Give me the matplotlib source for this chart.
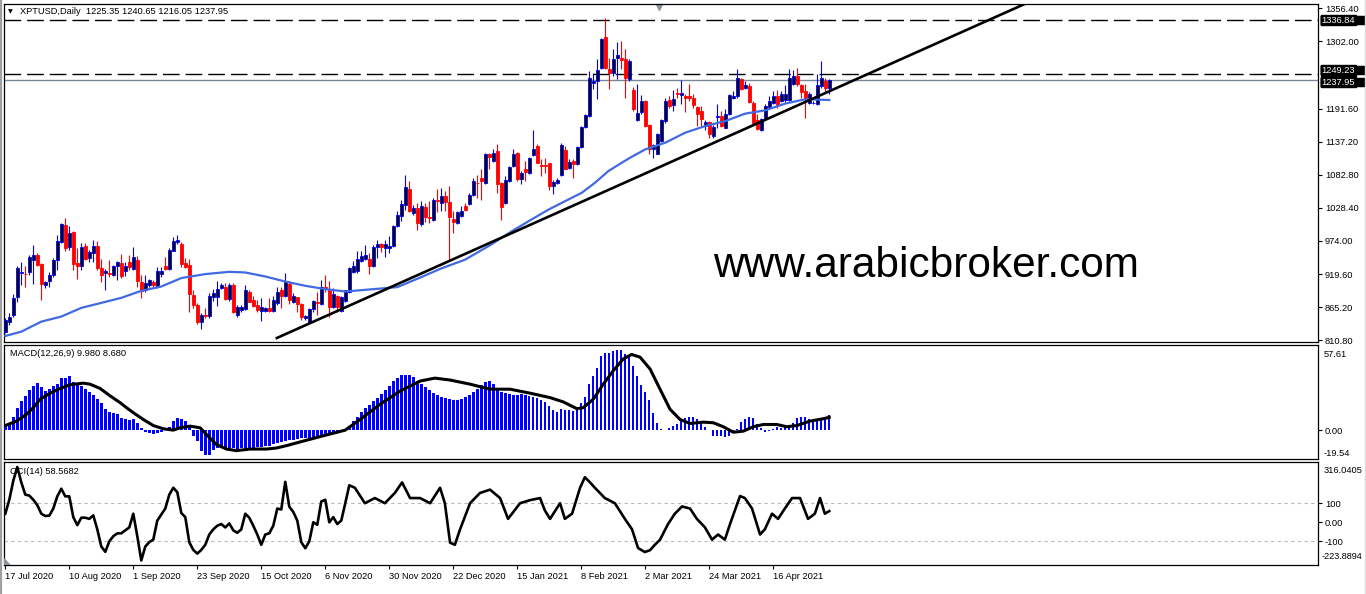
import numpy as np
import matplotlib
matplotlib.use("Agg")
import matplotlib.pyplot as plt
from matplotlib.transforms import blended_transform_factory, offset_copy
from matplotlib.lines import Line2D
from matplotlib.patches import Rectangle

plt.rcParams['font.family'] = ['Liberation Sans', 'DejaVu Sans']

# ---------------- data ----------------
opens = [824.0, 840.4, 852.5, 882.6, 921.7, 920.1, 922.2, 942.0, 951.4, 936.0,
         901.9, 907.4, 918.4, 943.1, 971.7, 999.7, 963.4, 988.2, 937.7, 932.1,
         965.1, 945.9, 954.2, 965.1, 929.5, 920.6, 921.7, 918.4, 933.2, 937.7,
         923.9, 938.7, 928.3, 942.0, 906.4, 893.7, 901.9, 906.4, 899.1, 919.5,
         932.1, 927.7, 956.8, 971.7, 969.0, 937.7, 934.9, 885.4, 869.0, 840.4,
         852.0, 850.7, 882.6, 882.6, 896.5, 898.6, 878.8, 901.9, 852.5, 860.7,
         862.4, 889.3, 877.2, 869.0, 859.6, 859.6, 864.5, 859.6, 871.8, 893.2,
         884.3, 903.1, 873.4, 881.7, 870.1, 847.0, 841.4, 862.4, 873.4, 870.1,
         897.5, 895.3, 866.2, 883.8, 859.6, 875.6, 890.9, 922.9, 923.9, 940.4,
         944.8, 944.3, 932.1, 963.4, 969.0, 962.4, 962.4, 965.1, 998.0, 1014.5,
         1033.8, 1060.2, 1020.1, 1028.3, 1002.5, 1030.0, 1012.8, 1007.9, 1040.9, 1036.6,
         1047.5, 1037.6, 1010.7, 1003.6, 1015.6, 1032.1, 1034.9, 1049.1, 1070.0, 1077.8,
         1069.5, 1116.2, 1105.2, 1121.7, 1069.5, 1036.6, 1072.2, 1096.9, 1119.0, 1076.6,
         1091.5, 1086.0, 1114.6, 1129.9, 1098.1, 1098.6, 1101.4, 1064.0, 1069.5, 1082.1,
         1122.8, 1094.3, 1105.2, 1099.7, 1128.2, 1161.2, 1179.4, 1233.3, 1237.0, 1258.0,
         1308.6, 1256.3, 1250.9, 1274.0, 1274.5, 1272.8, 1239.8, 1221.7, 1172.8, 1186.6,
         1204.1, 1164.5, 1124.5, 1117.4, 1138.1, 1171.1, 1205.2, 1197.0, 1216.8, 1214.0,
         1212.3, 1212.3, 1209.7, 1194.2, 1187.6, 1162.9, 1169.5, 1146.4, 1178.4, 1179.4,
         1160.2, 1182.2, 1208.5, 1212.3, 1241.0, 1226.2, 1228.8, 1201.4, 1172.3, 1155.8,
         1176.7, 1194.2, 1200.8, 1212.3, 1204.1, 1205.2, 1205.7, 1232.8, 1245.3, 1230.4,
         1220.5, 1200.3, 1200.3, 1199.8, 1228.8, 1237.0, 1225.35]
highs = [847.0, 855.3, 886.6, 932.1, 939.4, 933.2, 951.4, 967.9, 954.2, 937.7,
         908.5, 922.2, 945.9, 984.4, 1003.6, 1011.9, 998.0, 989.8, 962.4, 970.7,
         970.7, 959.6, 975.0, 973.3, 944.8, 928.3, 943.1, 934.9, 941.4, 952.6,
         939.3, 951.4, 963.4, 948.6, 918.4, 917.3, 911.8, 910.2, 930.5, 931.1,
         946.9, 962.4, 979.9, 984.4, 971.7, 945.9, 944.2, 893.7, 871.8, 856.3,
         863.5, 888.2, 895.3, 908.5, 904.8, 904.8, 904.8, 904.8, 869.0, 869.0,
         900.8, 893.7, 883.8, 877.2, 881.0, 866.2, 881.0, 883.8, 897.5, 899.1,
         921.2, 907.4, 888.2, 882.6, 871.8, 852.5, 863.5, 877.2, 890.0, 910.2,
         917.3, 908.5, 896.5, 885.4, 884.3, 893.7, 930.5, 940.4, 957.9, 956.8,
         966.7, 954.2, 966.7, 976.1, 970.6, 976.1, 981.5, 1000.8, 1022.7, 1042.0,
         1083.2, 1072.2, 1033.8, 1036.6, 1039.2, 1036.6, 1039.2, 1044.8, 1059.7, 1061.3,
         1055.7, 1064.0, 1022.7, 1022.7, 1031.0, 1036.6, 1053.1, 1077.8, 1083.2, 1091.5,
         1119.0, 1119.0, 1124.5, 1132.7, 1070.5, 1080.4, 1096.9, 1125.6, 1120.0, 1088.7,
         1105.2, 1111.7, 1156.3, 1132.7, 1109.1, 1110.8, 1102.5, 1075.0, 1077.8, 1135.5,
         1129.9, 1108.0, 1108.0, 1129.9, 1162.9, 1182.2, 1253.5, 1250.9, 1272.8, 1306.9,
         1340.4, 1274.0, 1289.3, 1300.3, 1303.0, 1289.3, 1272.8, 1226.7, 1231.6, 1214.0,
         1205.2, 1165.7, 1133.8, 1152.0, 1173.9, 1209.7, 1212.3, 1221.7, 1226.2, 1238.2,
         1215.1, 1232.8, 1215.1, 1195.8, 1195.8, 1172.3, 1171.1, 1164.5, 1199.8, 1187.6,
         1190.4, 1216.3, 1220.5, 1256.3, 1242.6, 1237.0, 1234.4, 1204.1, 1182.2, 1176.7,
         1198.6, 1212.3, 1220.5, 1221.7, 1220.5, 1230.4, 1256.3, 1254.7, 1259.1, 1232.8,
         1231.6, 1219.6, 1204.1, 1248.1, 1270.0, 1242.6, 1240.65]
lows = [822.3, 836.0, 849.7, 874.4, 901.9, 897.5, 917.3, 903.6, 932.1, 877.2,
        896.5, 897.5, 914.0, 926.7, 970.7, 956.8, 959.6, 925.5, 911.8, 925.5,
        943.1, 939.3, 939.3, 926.7, 906.4, 893.7, 914.0, 915.6, 909.0, 913.0,
        916.7, 926.7, 926.7, 899.1, 880.0, 889.9, 899.1, 897.5, 896.5, 914.0,
        925.5, 926.7, 956.8, 969.0, 931.6, 929.5, 856.9, 863.5, 837.1, 828.9,
        847.2, 847.2, 875.6, 867.8, 895.3, 877.2, 875.6, 855.3, 849.7, 857.9,
        860.7, 873.4, 866.2, 857.9, 842.4, 857.9, 857.9, 857.9, 869.0, 863.5,
        882.6, 870.1, 871.8, 857.9, 844.2, 844.2, 840.4, 857.9, 852.5, 869.0,
        890.9, 849.7, 863.5, 857.9, 857.9, 873.4, 888.2, 921.2, 921.2, 939.3,
        943.1, 919.5, 930.5, 945.9, 955.8, 946.9, 954.2, 963.4, 996.4, 1006.3,
        1025.5, 1021.7, 1017.3, 992.6, 998.0, 1004.6, 1003.6, 1006.3, 1021.1, 1022.7,
        1022.7, 943.1, 987.1, 1002.5, 1013.5, 1022.7, 1033.8, 1047.5, 1044.8, 1042.0,
        1068.4, 1091.5, 1104.2, 1053.1, 1009.1, 1035.4, 1071.2, 1095.9, 1072.2, 1066.8,
        1072.2, 1084.4, 1113.4, 1101.4, 1080.4, 1086.0, 1058.5, 1051.9, 1066.8, 1080.4,
        1091.5, 1092.6, 1077.8, 1098.1, 1127.3, 1159.6, 1178.4, 1223.4, 1206.9, 1256.3,
        1256.3, 1223.4, 1245.3, 1239.8, 1256.3, 1209.7, 1236.5, 1187.1, 1171.1, 1182.2,
        1161.2, 1117.4, 1109.6, 1116.2, 1137.2, 1168.5, 1193.2, 1187.6, 1209.7, 1198.6,
        1186.6, 1204.1, 1193.2, 1162.9, 1162.9, 1155.8, 1143.7, 1143.7, 1160.2, 1161.2,
        1159.1, 1181.0, 1206.9, 1209.7, 1221.7, 1223.4, 1201.4, 1166.8, 1155.8, 1154.6,
        1173.9, 1192.0, 1199.8, 1192.0, 1203.1, 1203.1, 1204.1, 1230.4, 1228.8, 1209.7,
        1176.7, 1198.6, 1198.6, 1197.5, 1226.2, 1216.8, 1216.05]
closes = [844.2, 849.7, 881.0, 929.5, 922.9, 918.9, 946.9, 951.4, 934.9, 903.1,
          906.4, 917.3, 943.1, 974.5, 1002.5, 962.4, 987.2, 936.5, 932.1, 963.4,
          944.8, 955.8, 965.1, 929.5, 918.4, 925.0, 920.1, 933.2, 939.3, 916.7,
          932.1, 930.4, 947.6, 908.5, 892.0, 905.7, 909.7, 900.8, 925.0, 925.0,
          928.3, 959.6, 973.3, 975.0, 936.0, 930.4, 886.6, 869.0, 840.4, 852.5,
          850.7, 883.8, 888.2, 894.8, 900.8, 878.8, 900.8, 856.9, 865.2, 866.2,
          893.2, 874.4, 867.8, 860.7, 865.2, 864.5, 859.6, 877.2, 890.4, 884.3,
          907.4, 877.2, 883.8, 870.1, 849.7, 850.8, 862.4, 875.6, 872.3, 897.5,
          895.3, 866.2, 887.1, 866.2, 881.7, 892.6, 929.5, 932.1, 944.8, 949.8,
          951.4, 932.1, 964.0, 969.0, 963.4, 969.0, 965.1, 999.2, 1017.3, 1034.9,
          1063.0, 1022.7, 1028.3, 1003.6, 1032.1, 1013.5, 1011.2, 1042.0, 1039.2, 1048.6,
          1037.6, 1013.5, 1005.3, 1021.1, 1023.9, 1025.5, 1050.3, 1073.3, 1068.9, 1072.2,
          1116.2, 1112.4, 1117.9, 1067.9, 1029.3, 1073.8, 1095.3, 1116.2, 1076.6, 1086.0,
          1087.0, 1109.6, 1124.5, 1102.5, 1096.4, 1096.9, 1064.0, 1070.6, 1075.0, 1131.0,
          1092.6, 1103.5, 1099.7, 1128.2, 1161.2, 1180.5, 1242.6, 1237.0, 1254.7, 1305.8,
          1258.0, 1250.9, 1272.8, 1279.4, 1271.7, 1242.6, 1269.0, 1190.4, 1184.9, 1204.1,
          1162.9, 1124.5, 1131.5, 1150.3, 1172.3, 1204.1, 1195.8, 1208.0, 1215.6, 1217.9,
          1209.7, 1209.7, 1197.5, 1182.2, 1173.9, 1170.1, 1149.2, 1161.2, 1179.4, 1162.9,
          1182.2, 1214.0, 1212.3, 1241.5, 1223.4, 1230.5, 1202.4, 1168.5, 1157.4, 1173.9,
          1195.8, 1204.1, 1212.3, 1197.5, 1215.1, 1216.3, 1241.5, 1245.3, 1231.6, 1219.6,
          1209.7, 1216.3, 1201.4, 1230.5, 1241.5, 1226.2, 1237.95]

# moving average (blue line), read at sampled bars
ma_idx = [0, 4, 9, 14, 19, 24, 29, 34, 39, 44, 50, 56, 60, 65, 70, 75, 80, 85, 93, 98,
          103, 109.1, 114.9, 121.2, 126.6, 130.8, 135.8, 139.9, 144.1, 147.4, 150.75,
          154.1, 156.2, 160, 165, 170, 175, 180, 185, 190, 195, 200, 206]
ma_val = [817.8, 824.9, 841.4, 849.7, 864.0, 872.2, 880.5, 892.0, 899.1, 913.0, 919.5,
          923.3, 922.2, 915.6, 907.3, 900.3, 894.8, 890.9, 895.3, 898.1, 911.8, 929.1,
          943.1, 967.0, 989.8, 1006.3, 1025.5, 1039.2, 1053.1, 1069.5, 1088.7, 1102.5,
          1110.8, 1124.5, 1135.5, 1152.0, 1162.9, 1171.1, 1183.3, 1188.7, 1199.8, 1206.9,
          1205.7]

# trend line (two anchor points, bar index / price)
trend_idx = [67.9, 255.4]
trend_price = [814.5, 1365.1]

level_lines = [1336.84, 1249.23]
bid_price = 1237.95

price_ticks = [810.80, 865.20, 919.60, 974.00, 1028.40, 1082.80, 1137.20, 1191.60, 1302.00, 1356.40]

macd_hist = [3.1, 5.0, 9.1, 15.2, 19.8, 23.2, 27.3, 30.0, 31.8, 29.5,
             26.6, 27.7, 30.0, 31.1, 35.0, 35.0, 36.8, 32.7, 30.5, 30.0,
             27.7, 25.9, 23.6, 21.4, 18.2, 14.5, 12.2, 11.8, 10.7, 7.9,
             7.2, 6.8, 7.2, 4.5, 1.3, -1.0, -1.9, -2.6, -1.9, -1.0,
             0.5, 2.2, 6.1, 8.4, 7.7, 6.1, 2.7, -4.2, -7.6, -14.4,
             -16.7, -16.7, -13.3, -12.1, -12.1, -12.0, -12.0, -12.3, -12.5, -12.3,
             -12.0, -11.8, -11.8, -11.5, -11.3, -11.0, -10.5, -9.5, -8.7, -8.0,
             -7.5, -7.0, -6.5, -6.0, -5.5, -5.0, -5.0, -4.5, -4.0, -3.5,
             -3.0, -2.5, -2.0, -1.5, -0.5, 0.8, 3.0, 6.0, 9.0, 12.0,
             15.0, 17.0, 19.5, 22.0, 24.5, 27.0, 30.0, 33.0, 35.5, 37.0,
             37.3, 37.3, 36.0, 33.0, 31.0, 29.0, 27.0, 25.0, 23.5, 22.5,
             21.5, 21.0, 20.5, 20.5, 21.0, 22.5, 24.0, 26.0, 28.0, 30.5,
             32.5, 33.0, 31.0, 28.0, 26.0, 25.0, 24.5, 24.0, 24.0, 24.5,
             24.0, 23.0, 22.5, 21.5, 20.5, 19.0, 16.0, 13.4, 12.2, 14.5,
             13.4, 13.4, 12.7, 14.1, 18.6, 22.7, 31.1, 36.8, 41.9, 50.0,
             52.3, 52.3, 53.7, 54.4, 54.4, 51.6, 50.5, 43.2, 36.8, 30.5,
             26.1, 20.2, 11.3, 5.0, 1.1, 0.4, 1.6, 3.1, 4.3, 6.1,
             7.9, 8.6, 8.6, 7.7, 5.4, 2.2, 0.4, -3.7, -3.7, -3.7,
             -4.6, -4.1, -1.4, 0.9, 5.2, 7.2, 9.1, 7.9, 4.3, 1.3,
             -1.0, -0.3, 0.9, 1.8, 1.6, 2.5, 2.5, 5.0, 8.4, 9.1,
             9.1, 7.2, 6.1, 6.1, 6.6, 8.3, 9.98]

signal_idx = [0, 2.8, 5.3, 7, 8.7, 11.2, 13.7, 16.2, 19.5, 21.2, 23.7, 26.2, 28.7, 30.3, 32,
              34.5, 37, 39.5, 42, 43.7, 46.2, 48.7, 50.3, 52.8, 55.3, 57.8, 61.2, 65.3, 67.8,
              70.3, 73.7, 78.7, 85, 88.7, 93.7, 98.7, 103.7, 107.4, 111.2, 116.2, 121.2, 126.2,
              131.2, 136.2, 139.5, 142.9, 144.5, 147, 149.5, 152, 154.5, 156.6, 158.7, 161.2,
              163.7, 166.2, 168.7, 171.2, 174.5, 177, 179.5, 182, 184.5, 187, 189.5, 192.9,
              195.4, 197.9, 201.2, 204.5, 206]
signal_val = [3.1, 6.1, 10.7, 15.2, 20.9, 25.0, 28.2, 30.7, 31.8, 31.1, 28.2, 23.2, 18.6, 15.2,
              11.8, 7.2, 3.1, 0.9, 0.0, 1.6, 2.7, 1.6, -3.0, -9.8, -12.8, -13.9, -12.8, -12.8,
              -12.1, -10.5, -8.0, -4.4, 0.0, 7.2, 17.5, 26.4, 33.2, 35.2, 33.9, 31.1, 27.7,
              27.7, 25.0, 22.0, 19.1, 14.5, 15.2, 20.9, 31.1, 40.2, 48.2, 51.2, 49.4, 41.4,
              27.7, 14.1, 7.2, 4.5, 5.4, 5.0, 2.3, -1.4, -0.7, 2.3, 3.8, 3.8, 2.3, 3.1, 6.1,
              7.7, 8.68]

cci_idx = list(range(87)) + [87.4, 89.9, 92.4, 94.9, 97.4, 99.2, 101.2, 103.7, 106.2, 108.7,
          109.9, 111.2, 112.4, 113.7, 116.2, 118.7, 121.2, 123.7, 125.7, 128.7, 131.2, 133.7,
          134.9, 136.2, 138.7, 139.9, 141.7, 143.7, 144.9, 146.2, 147.4, 149.9, 152.4, 154.9,
          156.7, 158.2, 159.9, 161.2, 162.4, 163.7, 165.7, 167.4, 169.2, 171.2, 172.9, 174.9,
          176.7, 178.2, 179.9, 181.2, 183.7, 184.9, 186.7, 188.7, 189.9, 191.7, 193.2, 194.9,
          196.7, 198.7, 200.7, 202.4, 203.7, 204.9, 206]
cci_val = [45, 118, 218, 290, 209, 145, 140, 118, 90, 45, 33, 35, 72, 136, 176, 136, 136, 27, -15, 24,
           24, 18, 36, -37, -127, -155, -100, -73, -58, -58, -42, -27, 45, -73, -200, -127, -104, -91, 9, 40,
           72, 145, 181, 158, 49, 27, -104, -145, -164, -145, -118, -64, -37, -18, -9, -27, -6, -42, -55, -37,
           45, 24, -18, -64, -118, -64, -58, -18, 72, 67, 212, 82, 54, 9, -104, -136, -100, 0, -13, 109,
           118, 0, 27, -9, 9, 100, 194,
           181, 100, 127, 100, 154, 209, 127, 127, 100, 181, 100, -107, -118, -37, 100, 154, 171, 127,
           18, 100, 116, 127, 62, 18, 100, 18, 45, 181, 236, 209, 181, 127, 100, 18, -37, -135, -156,
           -146, -118, -91, -9, 45, 83, 72, 18, -26, -91, -64, -91, -9, 138, 127, 72, -64, -37, 45, 18,
           72, 127, 127, 18, 45, 127, 45, 58.57]

date_idx = [0, 16, 32, 48, 64, 80, 96, 112, 128, 144, 160, 176, 192]
date_labels = ['17 Jul 2020', '10 Aug 2020', '1 Sep 2020', '23 Sep 2020', '15 Oct 2020',
               '6 Nov 2020', '30 Nov 2020', '22 Dec 2020', '15 Jan 2021', '8 Feb 2021',
               '2 Mar 2021', '24 Mar 2021', '16 Apr 2021']

title_text = 'XPTUSD,Daily  1225.35 1240.65 1216.05 1237.95'
macd_text = 'MACD(12,26,9) 9.980 8.680'
cci_text = 'CCI(14) 58.5682'
watermark = 'www.arabicbroker.com'

# ---------------- figure ----------------
W, H = 1366, 594
fig = plt.figure(figsize=(W / 100, H / 100), dpi=100)
fig.patch.set_facecolor('white')


def rect(x0, y0, x1, y1):
    return [x0 / W, 1 - y1 / H, (x1 - x0) / W, (y1 - y0) / H]


ax1 = fig.add_axes(rect(4, 4, 1318, 342))
ax2 = fig.add_axes(rect(4, 345, 1318, 459))
ax3 = fig.add_axes(rect(4, 462, 1318, 565))

xl = (-0.325, 328.2)
FS = 6.7
for ax in (ax1, ax2, ax3):
    ax.set_xlim(*xl)
    ax.set_facecolor('white')
    for s in ax.spines.values():
        s.set_color('black')
        s.set_linewidth(0.9)
    ax.yaxis.tick_right()
    ax.tick_params(axis='y', direction='out', length=3, width=0.8, pad=2,
                   labelsize=FS, colors='black')
    ax.tick_params(axis='x', bottom=False, labelbottom=False)

# ---- price panel ----
o = np.array(opens); h = np.array(highs); l = np.array(lows); c = np.array(closes)
idx = np.arange(len(o))
up = c >= o
wick_col = np.where(up, '#0000FF', '#FF0000')
ax1.vlines(idx, l, h, colors=wick_col, lw=0.8, zorder=3)
body_bot = np.minimum(o, c)
body_h = np.maximum(np.abs(c - o), 0.9)
ax1.bar(idx, body_h, bottom=body_bot, width=0.75,
        color=np.where(up, '#000000', '#FF0000'),
        edgecolor=np.where(up, '#0000FF', '#FF0000'), linewidth=0.6, zorder=4)

ax1.plot(ma_idx, ma_val, color='#4169E1', lw=1.6, zorder=5)
ax1.plot(trend_idx, trend_price, color='black', lw=1.9, zorder=5)
for lv in level_lines:
    ax1.axhline(lv, color='black', lw=1.0, dashes=(12, 4.3), zorder=2)
ax1.axhline(bid_price, color='#778899', lw=1.0, zorder=2)

ax1.set_ylim(807.9, 1363.5)
ax1.set_yticks(price_ticks)
ax1.set_yticklabels([f'{v:.2f}' for v in price_ticks])

# price labels at the right (black boxes, shifted apart as the terminal does)
tr1 = blended_transform_factory(ax1.transAxes, ax1.transData)
label_shift = {level_lines[0]: 0.0, level_lines[1]: 2.2, bid_price: -1.2}
box_w = 47 / 1314          # in axes fraction
box_h_pts = 6.8            # box height in points
for v in level_lines + [bid_price]:
    t = offset_copy(tr1, fig=fig, x=0, y=label_shift[v], units='points')
    tb = offset_copy(tr1, fig=fig, x=0, y=label_shift[v] - box_h_pts / 2, units='points')
    # rectangle: height given via a tiny data span converted below
    ax1.add_patch(Rectangle((1.0012, v), box_w, 0, transform=tb, clip_on=False,
                            facecolor='black', edgecolor='black', lw=box_h_pts * 0.0,
                            zorder=6))
    ax1.text(1.0025, v, f'{v:.2f}', transform=t, color='white', fontsize=FS,
             ha='left', va='center', zorder=7, clip_on=False,
             bbox=dict(boxstyle='square,pad=0.08', facecolor='black', edgecolor='black'))
    ax1.plot([1.0012, 1.0012 + box_w], [v, v], transform=t, color='black',
             lw=box_h_pts, solid_capstyle='butt', clip_on=False, zorder=6)

ax1.plot([0.4985], [0.99], marker='v', color='#8a949c', markersize=5,
         transform=ax1.transAxes, clip_on=False)

# ---- MACD panel ----
ax2.bar(idx, macd_hist, width=0.62, color='#0000FF', zorder=3)
ax2.plot(signal_idx, signal_val, color='black', lw=2.2, zorder=4)
ax2.set_ylim(-19.54, 57.61)
ax2.set_yticks([0])
ax2.set_yticklabels(['0.00'])
ax2.text(1.004, 0.96, '57.61', transform=ax2.transAxes, fontsize=FS, ha='left', va='top')
ax2.text(1.004, 0.005, '-19.54', transform=ax2.transAxes, fontsize=FS, ha='left', va='bottom')

# ---- CCI panel ----
for lv in (100, -100):
    ax3.axhline(lv, color='#b8b8b8', lw=0.8, dashes=(3, 3), zorder=1)
ax3.plot(cci_idx, cci_val, color='black', lw=1.9, zorder=3)
ax3.set_ylim(-223.8894, 316.0405)
ax3.set_yticks([100, 0, -100])
ax3.set_yticklabels(['100', '0.00', '-100'])
ax3.text(1.004, 0.96, '316.0405', transform=ax3.transAxes, fontsize=FS, ha='left', va='top')
ax3.text(1.003, 0.035, '-223.8894', transform=ax3.transAxes, fontsize=FS - 0.1, ha='left', va='bottom')
ax3.fill([0, 0.0045, 0], [0, 0, 0.06], transform=ax3.transAxes, color='#8a949c', zorder=5)

ax3.tick_params(axis='x', bottom=True, labelbottom=True, direction='out', length=3,
                width=0.8, pad=2, labelsize=FS)
ax3.set_xticks(date_idx)
ax3.set_xticklabels(date_labels, ha='left')

# ---- texts ----
fig.text(8 / W, 1 - 12 / H, '\u25BC', fontsize=4.5, va='center', ha='left',
         family='DejaVu Sans')
fig.text(20 / W, 1 - 12 / H, title_text, fontsize=FS, va='center', ha='left')
fig.text(10 / W, 1 - 353 / H, macd_text, fontsize=FS, va='center', ha='left')
fig.text(10 / W, 1 - 472 / H, cci_text, fontsize=FS, va='center', ha='left')
fig.text(713 / W, 1 - 277 / H, watermark, fontsize=30.5, va='baseline', ha='left',
         color='black', family='Liberation Sans')

# window borders
fig.add_artist(Line2D([1.2 / W, 1.2 / W], [0, 1], color='#a0a0a0', lw=1.6))
fig.add_artist(Line2D([1364.5 / W, 1364.5 / W], [0, 1], color='#dcdcdc', lw=1.0))

fig.savefig('out.png', dpi=100)
